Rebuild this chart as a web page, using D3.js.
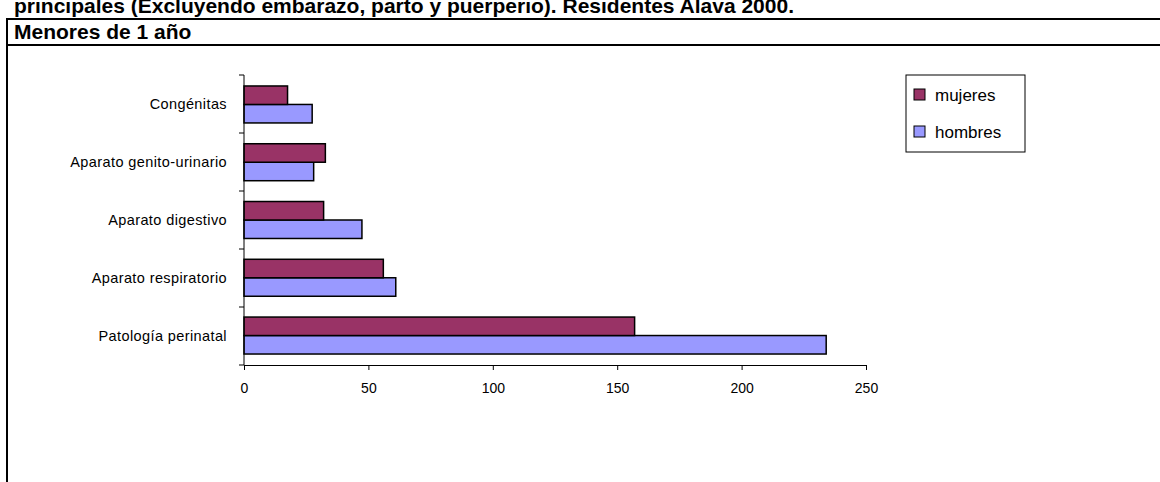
<!DOCTYPE html>
<html><head><meta charset="utf-8">
<script src="https://cdn.jsdelivr.net/npm/d3@7"></script>
<style>body{margin:0;background:#fff}svg{display:block;font-family:Arial,"Liberation Sans",sans-serif}</style>
</head><body><svg id="c"></svg>
<script>
var categories = ["Congénitas", "Aparato genito-urinario", "Aparato digestivo", "Aparato respiratorio", "Patología perinatal"];
var mujeres = [17.5, 32.7, 32, 56, 157];
var hombres = [27.4, 28, 47.4, 61, 234];
var xTicks = [0, 50, 100, 150, 200, 250];

var width = 1160, height = 482;
var svg = d3.select("#c").attr("width", width).attr("height", height);

// frame + title band
svg.append("rect").attr("x", 7).attr("y", 19).attr("width", width).attr("height", height)
  .attr("fill", "none").attr("stroke", "#000").attr("stroke-width", 2);
svg.append("line").attr("x1", 7).attr("x2", width).attr("y1", 45).attr("y2", 45)
  .attr("stroke", "#000").attr("stroke-width", 2);
svg.append("text").attr("x", 14).attr("y", 13).attr("font-size", 21).attr("font-weight", "bold")
  .text("principales (Excluyendo embarazo, parto y puerperio). Residentes Alava 2000.");
svg.append("text").attr("x", 14).attr("y", 39).attr("font-size", 21).attr("font-weight", "bold")
  .text("Menores de 1 año");

var x = d3.scaleLinear().domain([0, 250]).range([244, 866]);
var y = d3.scaleBand().domain(categories).range([75, 365]).paddingInner(0.36).paddingOuter(0.19);

var g = svg.append("g");
categories.forEach(function (c, i) {
  var bh = y.bandwidth() / 2;
  g.append("rect").attr("x", x(0)).attr("y", y(c) + bh).attr("width", x(hombres[i]) - x(0)).attr("height", bh)
    .attr("fill", "#9999ff").attr("stroke", "#000").attr("stroke-width", 1.5);
  g.append("rect").attr("x", x(0)).attr("y", y(c)).attr("width", x(mujeres[i]) - x(0)).attr("height", bh)
    .attr("fill", "#993366").attr("stroke", "#000").attr("stroke-width", 1.5);
});

// y axis with ticks between categories
var yEdges = d3.range(categories.length + 1).map(function (i) { return 75 + i * (290 / categories.length); });
svg.append("line").attr("x1", x(0)).attr("x2", x(0)).attr("y1", 75).attr("y2", 365).attr("stroke", "#000");
yEdges.forEach(function (v) {
  svg.append("line").attr("x1", x(0) - 5).attr("x2", x(0)).attr("y1", v).attr("y2", v).attr("stroke", "#000");
});
categories.forEach(function (c) {
  svg.append("text").attr("x", 227).attr("y", y(c) + y.bandwidth() / 2 + 5).attr("text-anchor", "end")
    .attr("font-size", 14.5).attr("letter-spacing", 0.4).attr("fill", "#000").text(c);
});

var xAxis = d3.axisBottom(x).tickValues(xTicks).tickSize(5).tickSizeOuter(0);
var ax = svg.append("g").attr("transform", "translate(0,365)").call(xAxis);
ax.select(".domain").attr("stroke", "#000");
ax.selectAll("text").attr("font-size", 14).attr("dy", "1.45em").attr("fill", "#000")
  .style("font-family", "Arial,'Liberation Sans',sans-serif");

// legend
var lg = svg.append("g");
lg.append("rect").attr("x", 906).attr("y", 75).attr("width", 119).attr("height", 77)
  .attr("fill", "#fff").attr("stroke", "#000");
[["mujeres", "#993366"], ["hombres", "#9999ff"]].forEach(function (d, i) {
  var yy = 95 + i * 37;
  lg.append("rect").attr("x", 914).attr("y", yy - 6).attr("width", 11).attr("height", 11)
    .attr("fill", d[1]).attr("stroke", "#000");
  lg.append("text").attr("x", 935).attr("y", yy + 6).attr("font-size", 17).text(d[0]);
});
</script></body></html>
